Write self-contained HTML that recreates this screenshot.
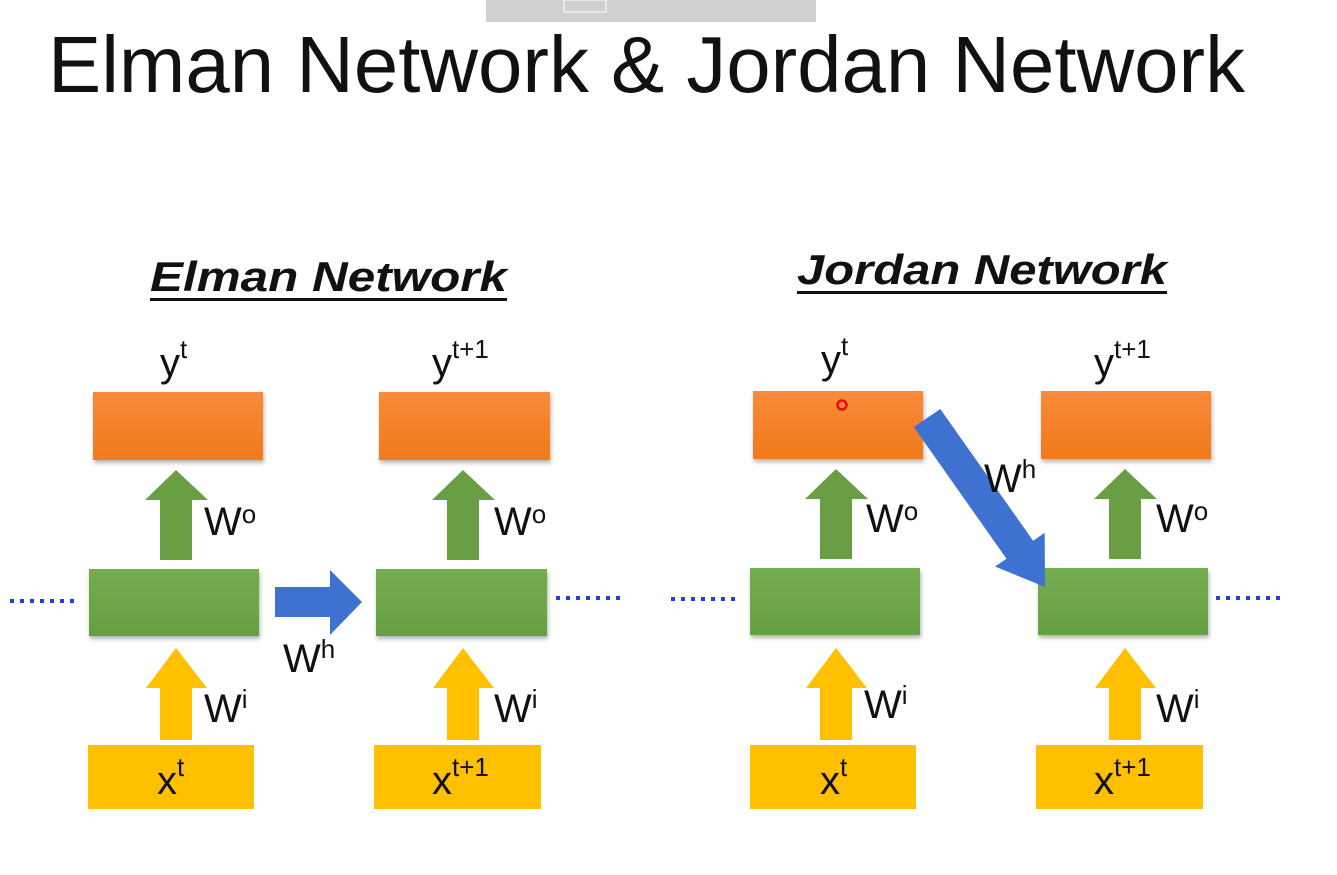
<!DOCTYPE html>
<html><head><meta charset="utf-8"><style>
html,body{margin:0;padding:0;background:#fff;}
svg{display:block;}
text{font-family:"Liberation Sans",sans-serif;fill:#111;}
</style></head><body>
<svg width="1337" height="875" viewBox="0 0 1337 875">
<defs>
<linearGradient id="og" x1="0" y1="0" x2="0" y2="1"><stop offset="0" stop-color="#f98a3a"/><stop offset="1" stop-color="#f07a1c"/></linearGradient>
<linearGradient id="gg" x1="0" y1="0" x2="0" y2="1"><stop offset="0" stop-color="#74ad4f"/><stop offset="1" stop-color="#66a043"/></linearGradient>
<filter id="sh" x="-5%" y="-5%" width="112%" height="120%"><feDropShadow dx="1" dy="3" stdDeviation="2" flood-color="#000" flood-opacity="0.3"/></filter>
</defs>
<rect x="486" y="0" width="330" height="22" fill="#cfd0d2"/>
<rect x="564" y="0" width="42" height="12" fill="none" stroke="#fff" stroke-width="1"/>
<text x="48" y="92" font-size="80" textLength="1197" lengthAdjust="spacingAndGlyphs" style="font-weight:300">Elman Network &amp; Jordan Network</text>

<text x="150" y="291" font-size="42" font-weight="bold" font-style="italic" textLength="357" lengthAdjust="spacingAndGlyphs">Elman Network</text>
<rect x="150" y="298" width="357" height="3" fill="#111"/>
<text x="797" y="284" font-size="42" font-weight="bold" font-style="italic" textLength="370" lengthAdjust="spacingAndGlyphs">Jordan Network</text>
<rect x="797" y="291" width="370" height="3" fill="#111"/>

<!-- dotted -->
<g stroke="#1f3fe0" stroke-width="4" stroke-dasharray="4,6">
<line x1="10" y1="601" x2="80" y2="601"/>
<line x1="556" y1="598" x2="626" y2="598"/>
<line x1="671" y1="599" x2="741" y2="599"/>
<line x1="1216" y1="598" x2="1286" y2="598"/>
</g>

<g filter="url(#sh)">
<!-- orange -->
<rect x="93" y="392" width="170" height="68" fill="url(#og)"/>
<rect x="379" y="392" width="171" height="68" fill="url(#og)"/>
<rect x="753" y="391" width="170" height="68" fill="url(#og)"/>
<rect x="1041" y="391" width="170" height="68" fill="url(#og)"/>
<!-- green -->
<rect x="89" y="569" width="170" height="67" fill="url(#gg)"/>
<rect x="376" y="569" width="171" height="67" fill="url(#gg)"/>
<rect x="750" y="568" width="170" height="67" fill="url(#gg)"/>
<rect x="1038" y="568" width="170" height="67" fill="url(#gg)"/>
</g>
<!-- yellow -->
<rect x="88" y="745" width="166" height="64" fill="#ffc000"/>
<rect x="374" y="745" width="167" height="64" fill="#ffc000"/>
<rect x="750" y="745" width="166" height="64" fill="#ffc000"/>
<rect x="1036" y="745" width="167" height="64" fill="#ffc000"/>

<!-- green up arrows -->
<g fill="#6a9e45">
<polygon points="160,560 160,500 145,500 176,470 208,500 192,500 192,560"/>
<polygon points="447,560 447,500 432,500 463,470 495,500 479,500 479,560"/>
<polygon points="820,559 820,499 805,499 836,469 868,499 852,499 852,559"/>
<polygon points="1109,559 1109,499 1094,499 1125,469 1157,499 1141,499 1141,559"/>
</g>
<!-- yellow up arrows -->
<g fill="#ffc000">
<polygon points="160,740 160,688 146,688 176,648 207,688 192,688 192,740"/>
<polygon points="447,740 447,688 433,688 463,648 494,688 479,688 479,740"/>
<polygon points="820,740 820,688 806,688 836,648 867,688 852,688 852,740"/>
<polygon points="1109,740 1109,688 1095,688 1125,648 1156,688 1141,688 1141,740"/>
</g>
<!-- blue arrows -->
<polygon fill="#3f72d0" points="275,587 330,587 330,570 362,602 330,635 330,617 275,617"/>
<polygon fill="#3f72d0" points="940.3,409 1033.1,540.7 1044.7,532.9 1045,587 995,566.5 1006.5,558.7 913.7,427"/>
<circle cx="842" cy="405" r="4.5" fill="none" stroke="#e01010" stroke-width="2.5"/>

<!-- labels -->
<g font-size="40">
<text x="160" y="376">y<tspan font-size="26" dy="-18">t</tspan></text>
<text x="432" y="376">y<tspan font-size="26" dy="-18">t+1</tspan></text>
<text x="821" y="373">y<tspan font-size="26" dy="-18">t</tspan></text>
<text x="1094" y="376">y<tspan font-size="26" dy="-18">t+1</tspan></text>
<text x="204" y="535">W<tspan font-size="26" dy="-12">o</tspan></text>
<text x="494" y="535">W<tspan font-size="26" dy="-12">o</tspan></text>
<text x="866" y="532">W<tspan font-size="26" dy="-12">o</tspan></text>
<text x="1156" y="532">W<tspan font-size="26" dy="-12">o</tspan></text>
<text x="204" y="722">W<tspan font-size="26" dy="-14">i</tspan></text>
<text x="494" y="722">W<tspan font-size="26" dy="-14">i</tspan></text>
<text x="864" y="718">W<tspan font-size="26" dy="-14">i</tspan></text>
<text x="1156" y="722">W<tspan font-size="26" dy="-14">i</tspan></text>
<text x="283" y="672">W<tspan font-size="26" dy="-14">h</tspan></text>
<text x="984" y="492">W<tspan font-size="26" dy="-14">h</tspan></text>
<text x="157" y="794">x<tspan font-size="26" dy="-18">t</tspan></text>
<text x="432" y="794">x<tspan font-size="26" dy="-18">t+1</tspan></text>
<text x="820" y="794">x<tspan font-size="26" dy="-18">t</tspan></text>
<text x="1094" y="794">x<tspan font-size="26" dy="-18">t+1</tspan></text>
</g>
</svg>
</body></html>
